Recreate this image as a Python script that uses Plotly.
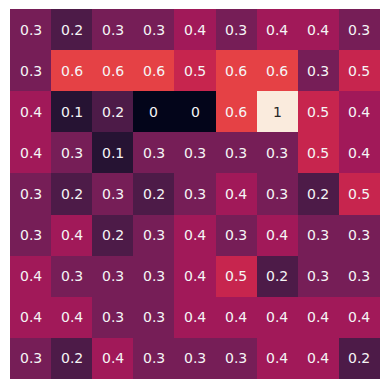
import plotly.graph_objects as go

rows = list(range(9))
cols = list(range(9))
values = [
    [0.3, 0.2, 0.3, 0.3, 0.4, 0.3, 0.4, 0.4, 0.3],
    [0.3, 0.6, 0.6, 0.6, 0.5, 0.6, 0.6, 0.3, 0.5],
    [0.4, 0.1, 0.2, 0.0, 0.0, 0.6, 1.0, 0.5, 0.4],
    [0.4, 0.3, 0.1, 0.3, 0.3, 0.3, 0.3, 0.5, 0.4],
    [0.3, 0.2, 0.3, 0.2, 0.3, 0.4, 0.3, 0.2, 0.5],
    [0.3, 0.4, 0.2, 0.3, 0.4, 0.3, 0.4, 0.3, 0.3],
    [0.4, 0.3, 0.3, 0.3, 0.4, 0.5, 0.2, 0.3, 0.3],
    [0.4, 0.4, 0.3, 0.3, 0.4, 0.4, 0.4, 0.4, 0.4],
    [0.3, 0.2, 0.4, 0.3, 0.3, 0.3, 0.4, 0.4, 0.2],
]

labels = [[f"{v:g}" for v in r] for r in values]

rocket = [
    [0.0, "#03051a"],
    [0.143, "#35193e"],
    [0.286, "#701f57"],
    [0.429, "#ad1759"],
    [0.571, "#e13342"],
    [0.714, "#f37651"],
    [0.857, "#f6b48f"],
    [1.0, "#faebdd"],
]

fig = go.Figure(go.Heatmap(
    z=values, x=cols, y=rows,
    colorscale=rocket, zmin=0, zmax=1, showscale=False, xgap=0, ygap=0,
))
for i, r in enumerate(rows):
    for j, c in enumerate(cols):
        v = values[i][j]
        fig.add_annotation(
            x=c, y=r, text=labels[i][j], showarrow=False,
            font=dict(family="DejaVu Sans", size=14,
                      color="#262626" if v > 0.7 else "#f5f5f5"),
        )
fig.update_layout(
    width=373, height=373,
    margin=dict(l=2, r=1, t=1, b=2),
    paper_bgcolor="white", plot_bgcolor="white",
    xaxis=dict(visible=False, range=[-0.5, 8.5]),
    yaxis=dict(visible=False, range=[8.5, -0.5]),
)
fig.write_html("out.html")
